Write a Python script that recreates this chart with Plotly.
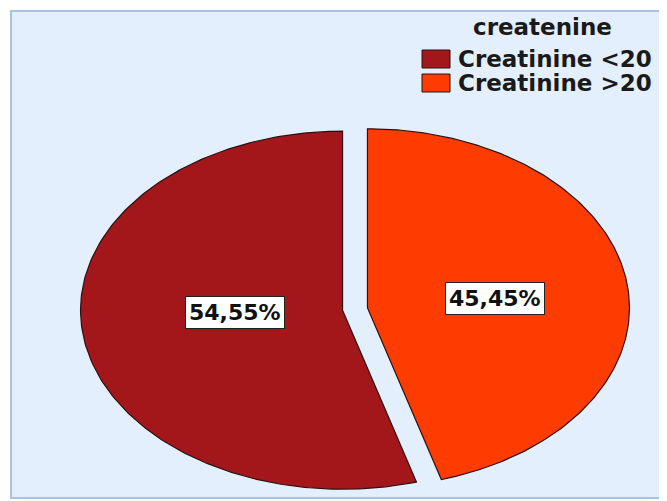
import numpy as np
import plotly.graph_objects as go

# ---- data ----
categories = ["Creatinine <20", "Creatinine >20"]
percentages = [54.55, 45.45]
pct_labels = ["54,55%", "45,45%"]
legend_title = "createnine"

# ---- style ----
colors = ["#a3171b", "#fe3c02"]
edge = "#2b1212"
W, H = 667, 501
OFF = 8  # page body margin compensation
cx, cy, rx, ry = 355, 309, 262, 179
explode = 0.048
FONT = "DejaVu Sans"

fig = go.Figure()

# background panel
fig.add_shape(type="rect", xref="x", yref="y", x0=11, x1=720, y0=11, y1=498,
              fillcolor="#e4effd", line=dict(color="#a8c2e0", width=2), layer="below")

# slices: orange clockwise from 12 o'clock, red counter-clockwise
total = sum(percentages)
a_orange = 360 * percentages[1] / total
spans = {1: (0.0, a_orange), 0: (a_orange, 360.0)}
for idx in [0, 1]:
    t0, t1 = spans[idx]
    th = np.radians(np.linspace(t0, t1, 200))
    tm = np.radians((t0 + t1) / 2)
    dx = explode * rx * np.sin(tm)
    dy = -explode * ry * np.cos(tm)
    px = np.concatenate([[cx + dx], cx + dx + rx * np.sin(th), [cx + dx]])
    py = np.concatenate([[cy + dy], cy + dy - ry * np.cos(th), [cy + dy]])
    fig.add_trace(go.Scatter(x=px, y=py, mode="lines", fill="toself",
                             fillcolor=colors[idx], line=dict(color=edge, width=1.2),
                             name=categories[idx], showlegend=False, hoverinfo="name"))

# percentage labels
label_pos = [(235, 312), (495, 298)]
for (lx, ly), txt in zip(label_pos, pct_labels):
    fig.add_annotation(x=lx, y=ly, xref="x", yref="y", text=f"<b>{txt}</b>", showarrow=False,
                       font=dict(family=FONT, size=22, color="#111"),
                       bgcolor="white", bordercolor="#222", borderwidth=1, borderpad=3)

# legend (manual)
fig.add_annotation(x=542, y=27, xref="x", yref="y", text=f"<b>{legend_title}</b>", showarrow=False,
                   font=dict(family=FONT, size=23, color="#1a1a1a"))
for i, (cat, col) in enumerate(zip(categories, colors)):
    y0 = 50 + i * 24
    fig.add_shape(type="rect", xref="x", yref="y", x0=422, x1=450, y0=y0, y1=y0 + 18,
                  fillcolor=col, line=dict(color=edge, width=1))
    fig.add_annotation(x=456, y=y0 + 9, xref="x", yref="y", text=f"<b>{cat}</b>", showarrow=False,
                       xanchor="left", font=dict(family=FONT, size=23, color="#1a1a1a"))

fig.update_layout(width=W, height=H, margin=dict(l=0, r=0, t=0, b=0),
                  paper_bgcolor="white", plot_bgcolor="white", showlegend=False,
                  xaxis=dict(range=[OFF, W + OFF], visible=False, fixedrange=True),
                  yaxis=dict(range=[H + OFF, OFF], visible=False, fixedrange=True))

fig.write_html("out.html")
